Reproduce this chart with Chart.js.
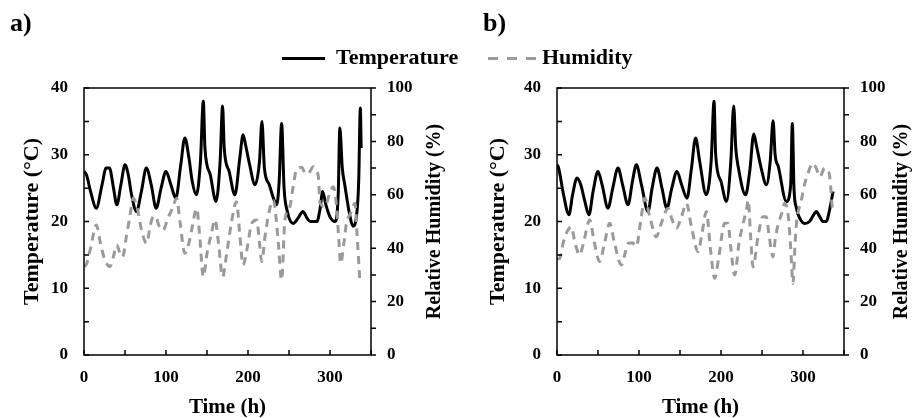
<!DOCTYPE html>
<html lang="en">
<head>
  <meta charset="UTF-8" />
  <title>Temperature and Humidity</title>
  <script src="https://cdn.jsdelivr.net/npm/chart.js"></script>
  <style>
    body { margin: 0; background: #fff; font-family: "Liberation Serif", "Times New Roman", serif; }
    #page { position: relative; width: 916px; height: 418px; overflow: hidden; }
    .panel { position: absolute; top: 0; width: 458px; height: 418px; }
    .tag { position: absolute; font-weight: bold; font-size: 26px; line-height: 26px; }
    .leg { position: absolute; font-weight: bold; font-size: 22px; line-height: 22px; top: 46px; }
    .dash { position: absolute; top: 57px; height: 3px; }
  </style>
</head>
<body>
<div id="page">
  <div class="panel" style="left:0"><canvas id="chartA"></canvas></div>
  <div class="panel" style="left:458px"><canvas id="chartB"></canvas></div>

  <div class="tag" style="left:10px; top:10px">a)</div>
  <div class="tag" style="left:483px; top:10px">b)</div>

  <!-- legend -->
  <div class="dash" style="left:282px; width:43px; background:#000"></div>
  <div class="leg" style="left:336px">Temperature</div>
  <div class="dash" style="left:488px; width:10px; background:#999"></div>
  <div class="dash" style="left:507px; width:10px; background:#999"></div>
  <div class="dash" style="left:526px; width:10px; background:#999"></div>
  <div class="leg" style="left:542px">Humidity</div>
</div>

<script>
  // panel a) temperature
  const timeTempA = [0, 3, 8, 15, 22, 27, 31, 36, 40, 45, 50, 54, 58, 64, 70, 76, 82, 88, 94, 100,
    106, 112, 118, 123, 128, 132, 137, 142, 145.5, 147.5, 154, 161, 166, 169, 171, 177, 184, 190, 194, 197,
    202, 208.5, 214, 217, 220, 226, 231, 235, 238, 241, 244, 248, 255, 261, 267, 272, 276, 284, 288, 291,
    295, 300, 306, 310, 312, 315, 318, 324, 328, 332, 335, 337, 338];
  const tempA = [27.5, 27.0, 24.5, 22.0, 25.5, 28.0, 28.0, 25.0, 22.5, 25.5, 28.5, 27.0, 24.0, 21.5, 24.5, 28.0, 25.5, 22.0, 25.0, 27.5,
    25.5, 23.5, 28.5, 32.5, 29.5, 26.0, 24.0, 29.0, 38.0, 31.0, 27.0, 23.0, 29.0, 37.3, 31.0, 27.5, 24.0, 29.5, 33.0, 31.5,
    28.5, 25.5, 29.0, 35.0, 28.0, 25.5, 23.5, 22.5, 26.0, 34.7, 25.0, 21.5, 19.7, 20.5, 21.5, 20.5, 20.0, 20.0, 22.0, 24.5,
    22.5, 20.7, 20.0, 24.0, 34.0, 28.0, 25.5, 21.0, 19.3, 20.5, 26.0, 37.0, 31.0];

  // panel a) humidity
  const timeHumA = [0, 3, 8, 15, 20, 25, 31.7, 36, 39.8, 44, 47, 52, 56, 60, 65, 70, 76.4, 80, 82.5, 87,
    92, 96.7, 102, 108, 113, 117, 123, 128, 132, 137.4, 141, 145.5, 150, 155, 159.8, 164, 169, 174, 180, 186,
    190, 194, 199, 204.5, 210.6, 214, 216.7, 221, 226, 231, 234, 237, 241, 245, 251, 255, 259, 265.5, 270, 273.5,
    279.6, 283, 285.8, 288, 294, 299, 304, 308, 311, 313, 317, 320, 325, 330.5, 333, 336.6];
  const humA = [33, 34, 40, 48.7, 42, 36, 33.1, 37, 41.2, 38, 36.8, 45, 52, 58.7, 55, 47, 41.8, 47, 50.6, 52,
    48, 46.8, 51, 55, 58.7, 50, 38.1, 42, 48, 54.9, 45, 29.3, 38, 45, 50.6, 42, 29.3, 38, 50, 57.4,
    45, 33.7, 40, 49.3, 50.6, 42, 35, 45, 54, 58, 52, 41.8, 28.1, 50.6, 55.5, 63, 69.3, 70.3, 68, 68,
    70.5, 69, 66.8, 56.8, 55.6, 60, 63, 55.5, 42, 34.3, 42, 49.3, 53, 56.8, 45, 26.8];

  // panel b) temperature
  const timeTempB = [0, 2, 8, 14.6, 19, 24.4, 29, 34, 39, 44, 50, 55, 62.2, 68, 74.4, 80, 86.6, 92, 96.8, 103,
    111, 116, 122, 128, 134, 140, 146.3, 152, 158.5, 164, 169, 174, 182, 188, 191.5, 193.5, 200, 206.6, 212, 215.5,
    218, 221, 230, 235, 240, 243, 249, 255.3, 260, 263.5, 266, 270, 279.7, 285, 287, 289, 292, 296, 302, 308,
    312, 316.3, 320, 324.4, 328.5, 332, 336.6];
  const tempB = [28.5, 28.0, 24.0, 21.0, 24.0, 26.5, 25.5, 23.0, 21.0, 24.5, 27.5, 25.5, 22.0, 25.0, 28.0, 25.5, 22.5, 26.0, 28.5, 25.5,
    21.5, 25.0, 28.0, 25.0, 22.0, 25.0, 27.5, 25.5, 23.5, 28.0, 32.5, 29.0, 24.0, 29.0, 38.0, 30.0, 26.0, 23.0, 29.0, 37.3,
    31.0, 28.2, 24.0, 27.5, 33.1, 31.5, 28.0, 25.5, 29.0, 35.1, 30.0, 28.2, 23.0, 25.5, 34.7, 25.0, 22.0, 20.5, 19.7, 20.0,
    20.8, 21.5, 20.8, 20.0, 20.0, 21.5, 24.5];

  // panel b) humidity
  const timeHumB = [0, 3.3, 7.4, 12, 17.5, 22, 27.7, 33, 39.9, 45, 52, 58, 64.3, 70, 78.5, 83, 86.6, 92, 96.8, 102,
    107, 113, 121, 128, 135.4, 140, 145.6, 152, 157.8, 164, 172, 177, 182.2, 187, 192.3, 197, 204.5, 208.5, 212, 216.7,
    222, 227, 231, 233.3, 236, 239, 245, 251, 255, 259, 263.4, 266, 269.5, 274, 277.7, 282, 285, 287.8, 290, 292,
    298, 302, 306, 312, 316, 320.4, 326.5, 330, 332.6, 335.8];
  const humB = [36, 36.2, 41.8, 46, 48, 42, 37.5, 43, 50.6, 43, 35, 42, 49.3, 42, 33.7, 38, 41.8, 42, 40.6, 50,
    58.7, 52, 44.3, 50, 55, 51, 47.5, 52, 56.8, 48, 38.7, 46, 53.7, 40, 28.7, 36, 49.3, 49.3, 40, 30,
    42, 49.3, 54.3, 58, 45, 33, 44, 51.8, 51.8, 44, 36.8, 43, 48.7, 53, 56.8, 52, 40, 26.8, 40, 49.3,
    58, 64, 68, 71.8, 70, 66.8, 70, 69, 66.8, 54.3];

  const xTicks = [0, 100, 200, 300];
  const tempTicks = [0, 10, 20, 30, 40];
  const humTicks = [0, 20, 40, 60, 80, 100];

  const serif = "'Liberation Serif', 'Times New Roman', serif";
  const toPts = (xs, ys) => xs.map((x, i) => ({ x: x, y: ys[i] }));

  // box around the plot + tick marks (inside on left/bottom, outside on right)
  const framePlugin = {
    id: 'frame',
    afterDatasetsDraw(chart, args, opts) {
      const { ctx, chartArea: a, scales } = chart;
      ctx.save();
      ctx.strokeStyle = '#000';
      ctx.lineWidth = 1.5;
      ctx.strokeRect(a.left, a.top, a.right - a.left, a.bottom - a.top);
      ctx.beginPath();
      scales.y.ticks.forEach(t => {
        const py = scales.y.getPixelForValue(t.value);
        ctx.moveTo(a.left, py); ctx.lineTo(a.left + 5, py);
      });
      scales.y1.ticks.forEach(t => {
        const py = scales.y1.getPixelForValue(t.value);
        ctx.moveTo(a.right, py); ctx.lineTo(a.right + 5, py);
      });
      scales.x.ticks.forEach(t => {
        const px = scales.x.getPixelForValue(t.value);
        ctx.moveTo(px, a.bottom); ctx.lineTo(px, a.bottom - 5);
      });
      ctx.stroke();

      // right axis title, reads bottom to top
      ctx.fillStyle = '#000';
      ctx.font = "bold 20px " + serif;
      ctx.textAlign = 'center';
      ctx.textBaseline = 'middle';
      ctx.translate(opts.rightTitleX, (a.top + a.bottom) / 2);
      ctx.rotate(-Math.PI / 2);
      ctx.fillText('Relative Humidity (%)', 0, 0);
      ctx.restore();
    }
  };

  function makeChart(id, tx, ty, hx, hy, leftW, rightW, rightTitleX, leftTitlePad) {
    return new Chart(document.getElementById(id), {
      type: 'line',
      data: {
        datasets: [{
          label: 'Humidity',
          data: toPts(hx, hy),
          yAxisID: 'y1',
          borderColor: '#9a9a9a',
          borderWidth: 3,
          borderDash: [8, 6],
          pointRadius: 0,
          cubicInterpolationMode: 'monotone'
        }, {
          label: 'Temperature',
          data: toPts(tx, ty),
          yAxisID: 'y',
          borderColor: '#000',
          borderWidth: 3,
          pointRadius: 0,
          cubicInterpolationMode: 'monotone'
        }]
      },
      options: {
        responsive: true,
        maintainAspectRatio: false,
        animation: false,
        layout: { padding: { top: 88, left: 0, right: 0, bottom: 0 } },
        plugins: {
          legend: { display: false },
          tooltip: { enabled: false },
          frame: { rightTitleX: rightTitleX }
        },
        scales: {
          x: {
            type: 'linear', min: 0, max: 350,
            grid: { display: false, drawTicks: false }, border: { display: false },
            ticks: {
              stepSize: 50, autoSkip: false, maxRotation: 0, padding: 12, color: '#000',
              font: { family: serif, size: 17, weight: 'bold' },
              callback: v => xTicks.includes(v) ? v : ''
            },
            title: { display: true, text: 'Time (h)', color: '#000', padding: { top: 0, bottom: -2 },
              font: { family: serif, size: 21, weight: 'bold' } },
            afterFit: s => { s.height = 63; }
          },
          y: {
            position: 'left', min: 0, max: 40,
            grid: { display: false, drawTicks: false }, border: { display: false },
            ticks: {
              stepSize: 5, autoSkip: false, padding: 16, color: '#000',
              font: { family: serif, size: 17, weight: 'bold' },
              callback: v => tempTicks.includes(v) ? v : ''
            },
            title: { display: true, text: 'Temperature (°C)', color: '#000', padding: { top: leftTitlePad, bottom: 0 },
              font: { family: serif, size: 22, weight: 'bold' } },
            afterFit: s => { s.width = leftW; }
          },
          y1: {
            position: 'right', min: 0, max: 100,
            grid: { display: false, drawTicks: false }, border: { display: false },
            ticks: {
              stepSize: 10, autoSkip: false, padding: 16, color: '#000',
              font: { family: serif, size: 17, weight: 'bold' },
              callback: v => humTicks.includes(v) ? v : ''
            },
            afterFit: s => { s.width = rightW; }
          }
        }
      },
      plugins: [framePlugin]
    });
  }

  makeChart('chartA', timeTempA, tempA, timeHumA, humA, 84, 87, 435, 19);
  makeChart('chartB', timeTempB, tempB, timeHumB, humB, 99, 72, 444, 27);
</script>
</body>
</html>
